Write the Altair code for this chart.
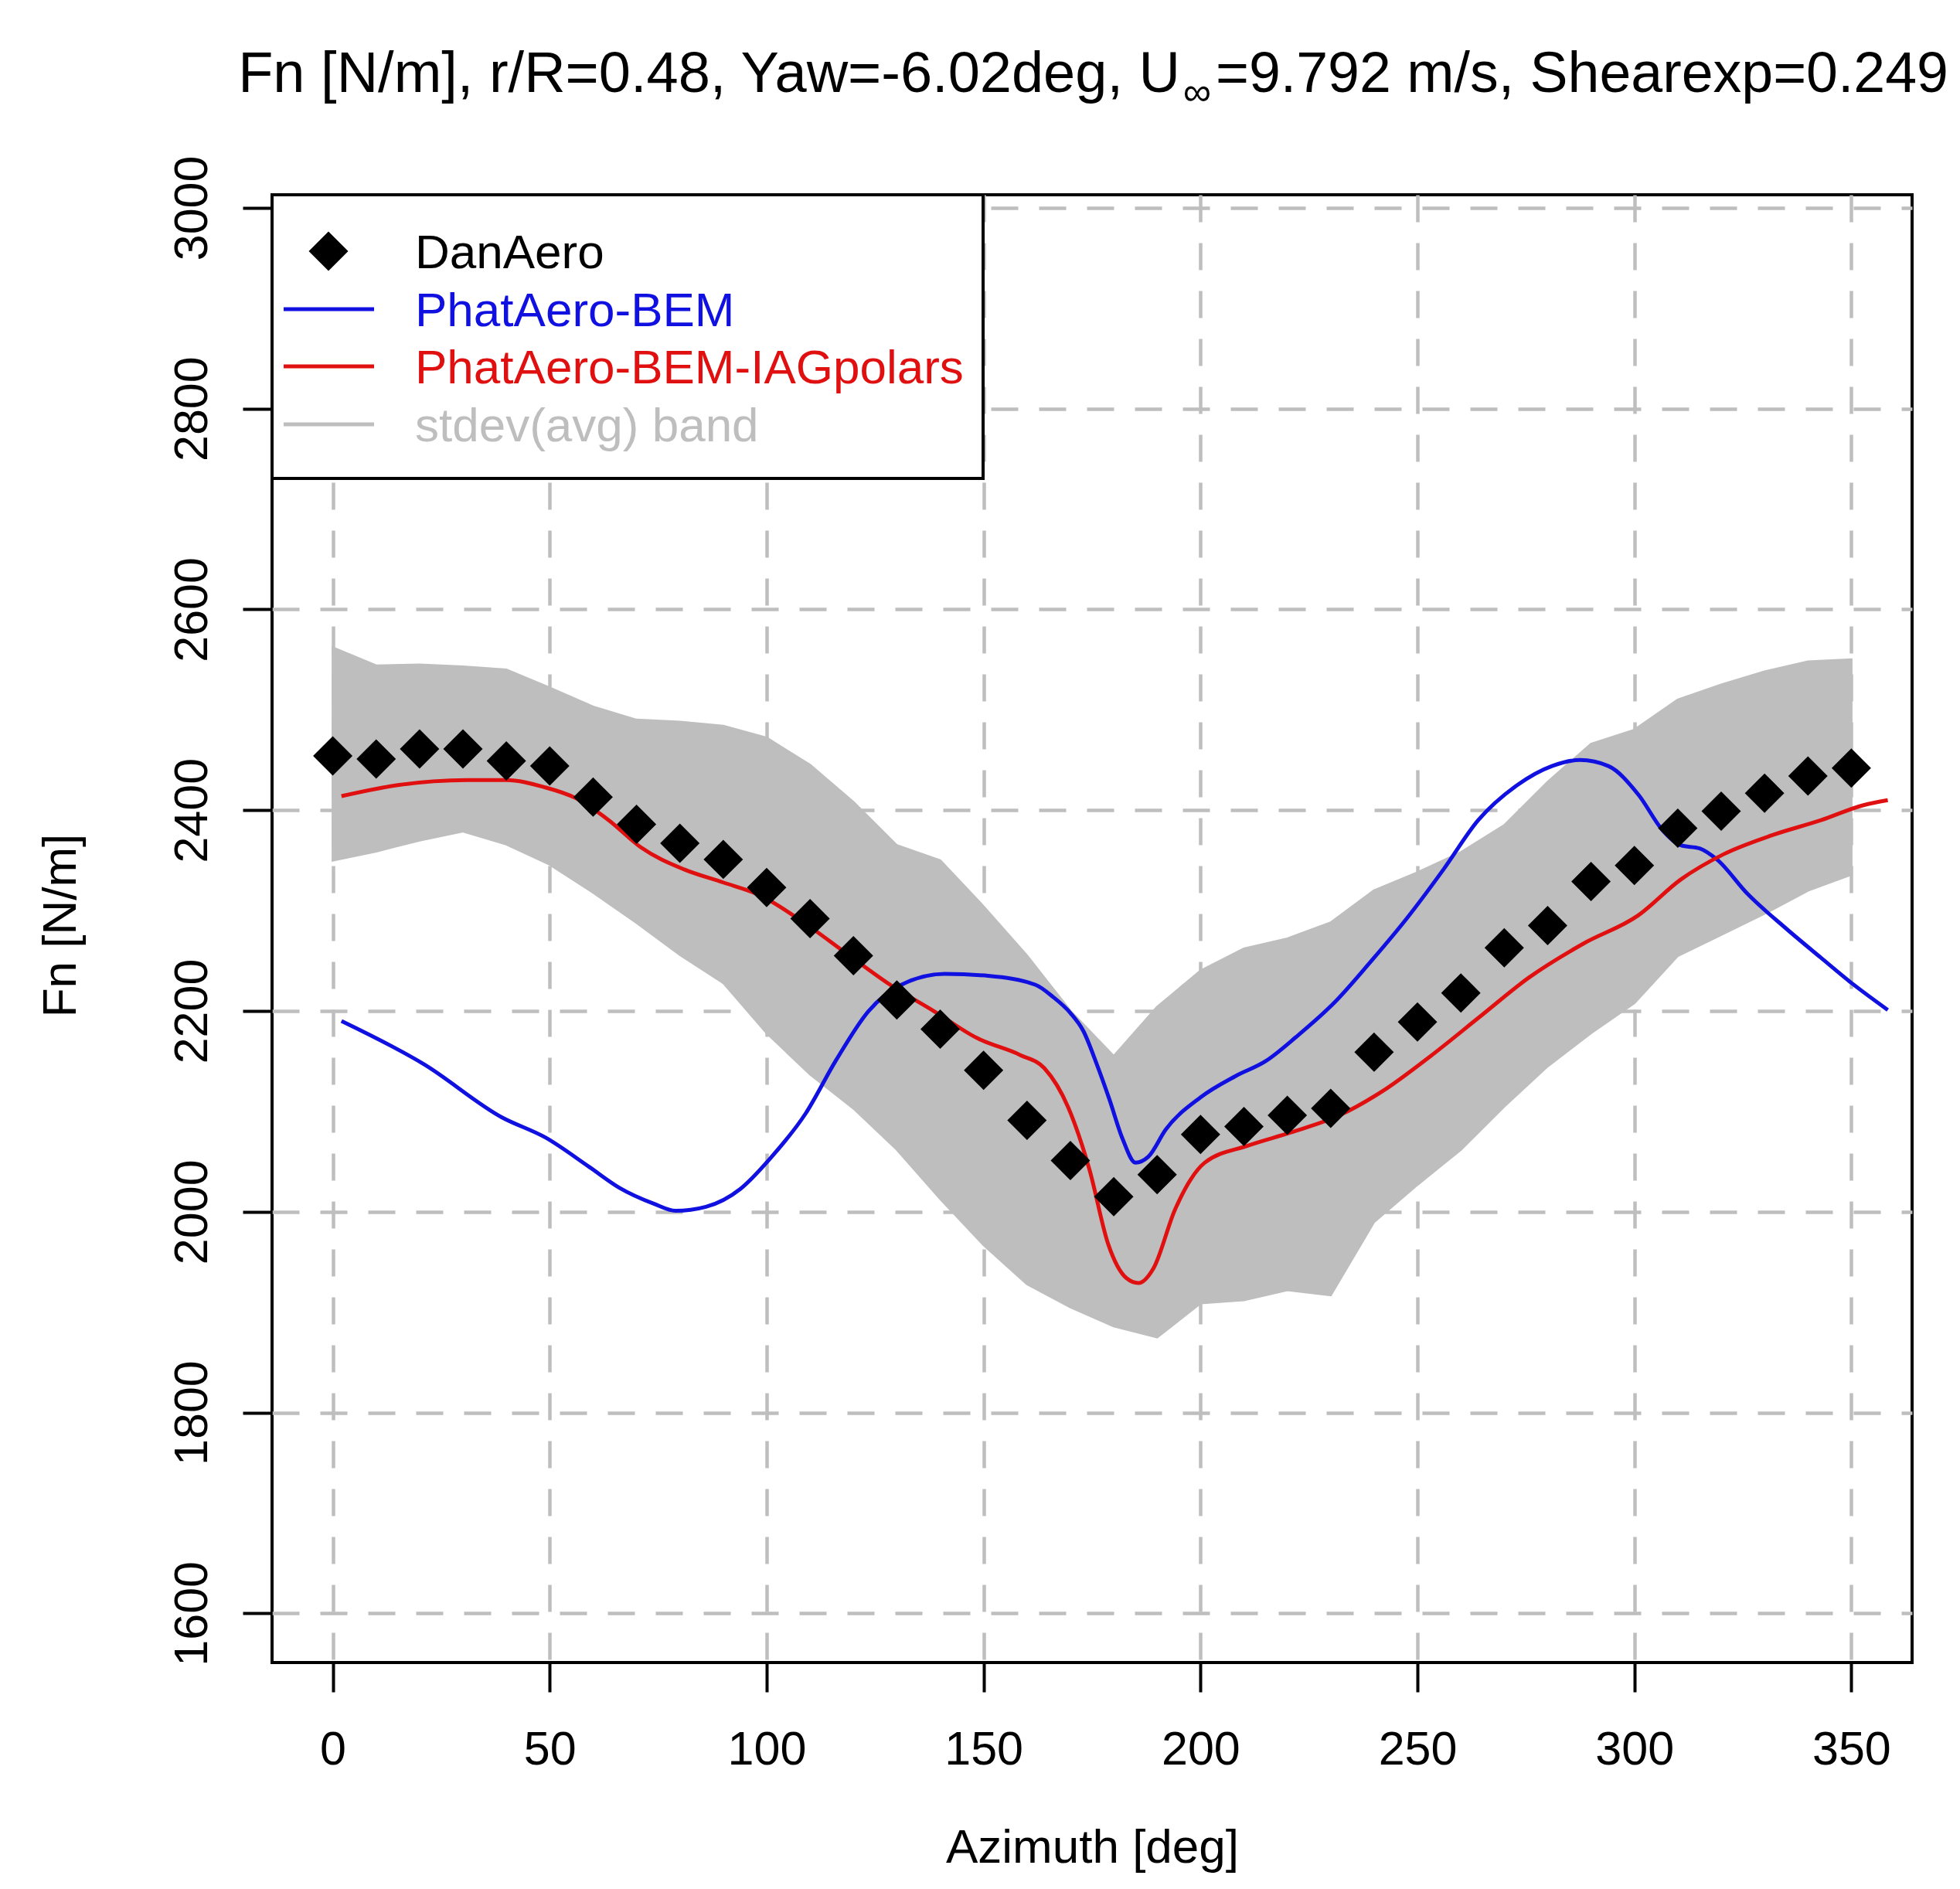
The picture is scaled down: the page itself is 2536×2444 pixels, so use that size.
import altair as alt
import pandas as pd

FONT = "Liberation Sans, Arial, Helvetica, sans-serif"

# ---------------- data ----------------
dan_az = list(range(0, 360, 10))
dan_fn = [2454, 2451, 2461, 2461, 2449, 2444, 2413, 2386, 2367, 2351,
          2323, 2292, 2255, 2211, 2182, 2141, 2091, 2051, 2015, 2037,
          2077, 2085, 2096, 2103, 2159, 2189, 2218, 2263, 2285, 2329,
          2345, 2382, 2399, 2417, 2434, 2442]

band_upper = [2562, 2544, 2545, 2543, 2540, 2522, 2503, 2490, 2488, 2484,
              2472, 2445, 2408, 2365, 2350, 2304, 2255, 2200, 2155, 2204,
              2240, 2262, 2272, 2288, 2320, 2338, 2358, 2385, 2428, 2466,
              2480, 2510, 2525, 2538, 2548, 2550]
band_lower = [2350, 2359, 2370, 2379, 2366, 2346, 2318, 2288, 2256, 2228,
              2178, 2137, 2103, 2062, 2013, 1967, 1928, 1905, 1886, 1875,
              1909, 1912, 1922, 1917, 1990, 2027, 2062, 2105, 2145, 2178,
              2208, 2255, 2276, 2297, 2320, 2336]

bem_az = [2, 21, 39, 49, 59, 66, 74, 79, 86, 94, 101, 109, 116, 123.5, 131,
          141, 151, 162, 166, 170, 173, 176, 179, 182, 185, 188, 192, 200,
          208, 215, 222, 231, 239, 247.5, 256, 264, 273, 281, 287.5, 294,
          301, 306.5, 310.7, 315, 319, 326, 335, 343, 350, 358.4]
bem_fn = [2190, 2147, 2094, 2074, 2045, 2024, 2008, 2001, 2005, 2023, 2054,
          2098, 2151, 2200, 2226, 2237, 2235, 2226, 2214, 2198, 2180, 2148,
          2112, 2073, 2049, 2055, 2082, 2114, 2135, 2150, 2174, 2209, 2248,
          2292, 2341, 2390, 2425, 2444, 2450, 2444, 2415, 2380, 2365, 2362,
          2351, 2317, 2282, 2253, 2228, 2201]

iag_az = [2, 15, 31, 40, 48.7, 56, 63.6, 71, 81, 90, 98.6, 108.6, 118.5,
          128.5, 138.5, 148.5, 158.5, 164, 169.5, 174.4, 178.7, 182.9, 185.7,
          189.2, 194.1, 201, 211, 220.8, 232, 241.9, 253, 264.3, 275.6,
          288.2, 300.8, 310.7, 320.5, 331.7, 343, 352.8, 358.4]
iag_fn = [2414, 2425, 2430, 2430, 2423, 2412, 2390, 2363, 2341, 2328, 2315,
          2288, 2257, 2226, 2200, 2173, 2156, 2143, 2104, 2042, 1968, 1934,
          1929, 1944, 2002, 2049, 2066, 2079, 2096, 2120, 2155, 2194, 2233,
          2267, 2295, 2331, 2356, 2375, 2390, 2405, 2410]

x_ticks = [0, 50, 100, 150, 200, 250, 300, 350]
y_ticks = [1600, 1800, 2000, 2200, 2400, 2600, 2800, 3000]

legend_labels = ["DanAero", "PhatAero-BEM", "PhatAero-BEM-IAGpolars", "stdev(avg) band"]
legend_colors = ["#000000", "#1010E0", "#E01010", "#BEBEBE"]

title_main = "Fn [N/m], r/R=0.48, Yaw=-6.02deg, U"
title_sub = "\u221e"
title_rest = "=9.792 m/s, Shearexp=0.249"

# ---------------- chart ----------------
W, H = 2122, 1899
xs = alt.Scale(domain=[-14, 364], nice=False, zero=False)
ys = alt.Scale(domain=[1551, 3013], nice=False, zero=False)

common_axis = dict(labelFontSize=61, titleFontSize=62, titleFontWeight="normal",
                   labelColor="black", titleColor="black", tickSize=38, tickWidth=4,
                   tickColor="black", domain=False, grid=True, gridDash=[35, 27],
                   gridColor="#BEBEBE", gridWidth=4.5, labelFlush=False,
                   labelOverlap=False, format="d")

x_axis = alt.Axis(values=x_ticks, title="Azimuth [deg]", labelPadding=45,
                  labelBaseline="top", titleX=W / 2, titleY=258,
                  titleBaseline="alphabetic", titleAlign="center", **common_axis)
y_axis = alt.Axis(values=y_ticks, title="Fn [N/m]", labelPadding=47, labelAngle=270,
                  labelAlign="center", labelBaseline="alphabetic", titleAngle=270,
                  titleX=-255, titleY=945, titleAlign="center",
                  titleBaseline="alphabetic", **common_axis)

band_df = pd.DataFrame({"az": dan_az, "upper": band_upper, "lower": band_lower})
band = alt.Chart(band_df).mark_area(color="#BEBEBE", opacity=1, stroke="#BEBEBE",
                                    strokeWidth=3).encode(
    x=alt.X("az:Q", scale=xs, axis=x_axis),
    y=alt.Y("upper:Q", scale=ys, axis=y_axis),
    y2="lower:Q",
)

bem = alt.Chart(pd.DataFrame({"az": bem_az, "fn": bem_fn})).mark_line(
    color=legend_colors[1], strokeWidth=5, interpolate="monotone").encode(
    x=alt.X("az:Q", scale=xs), y=alt.Y("fn:Q", scale=ys))

iag = alt.Chart(pd.DataFrame({"az": iag_az, "fn": iag_fn})).mark_line(
    color=legend_colors[2], strokeWidth=5, interpolate="monotone").encode(
    x=alt.X("az:Q", scale=xs), y=alt.Y("fn:Q", scale=ys))

dan = alt.Chart(pd.DataFrame({"az": dan_az, "fn": dan_fn})).mark_point(
    shape="diamond", filled=True, color="black", size=2600, opacity=1,
    strokeWidth=0).encode(
    x=alt.X("az:Q", scale=xs), y=alt.Y("fn:Q", scale=ys))

layers = [band, bem, iag, dan]

# legend box
one = pd.DataFrame({"k": [0]})
layers.append(alt.Chart(one).mark_rect(fill="white", stroke="black", strokeWidth=4).encode(
    x=alt.value(0), x2=alt.value(920), y=alt.value(0), y2=alt.value(367)))

row_y = [73, 148, 222, 297]
layers.append(alt.Chart(one).mark_point(shape="diamond", filled=True, color="black",
                                        size=2600, opacity=1, strokeWidth=0).encode(
    x=alt.value(73), y=alt.value(row_y[0])))
for i in (1, 2, 3):
    layers.append(alt.Chart(one).mark_rule(color=legend_colors[i], strokeWidth=5).encode(
        x=alt.value(15), x2=alt.value(132), y=alt.value(row_y[i])))
for i, lab in enumerate(legend_labels):
    layers.append(alt.Chart(pd.DataFrame({"t": [lab]})).mark_text(
        align="left", baseline="alphabetic", fontSize=62, color=legend_colors[i]).encode(
        text="t:N", x=alt.value(185), y=alt.value(row_y[i] + 22)))

# title with subscript infinity
layers.append(alt.Chart(pd.DataFrame({"t": [title_main]})).mark_text(
    align="right", baseline="alphabetic", fontSize=74, color="black").encode(
    text="t:N", x=alt.value(1175), y=alt.value(-133)))
layers.append(alt.Chart(pd.DataFrame({"t": [title_sub]})).mark_text(
    align="center", baseline="alphabetic", fontSize=51, color="black").encode(
    text="t:N", x=alt.value(1197), y=alt.value(-116)))
layers.append(alt.Chart(pd.DataFrame({"t": [title_rest]})).mark_text(
    align="left", baseline="alphabetic", fontSize=73.5, color="black").encode(
    text="t:N", x=alt.value(1221), y=alt.value(-133)))

chart = alt.layer(*layers).properties(
    width=W, height=H,
    autosize=alt.AutoSizeParams(type="none"),
    padding={"left": 344, "top": 244, "right": 54, "bottom": 274},
).configure(font=FONT).configure_view(stroke="black", strokeWidth=4)

chart.save("out.html", embed_options={"renderer": "svg", "actions": False})
